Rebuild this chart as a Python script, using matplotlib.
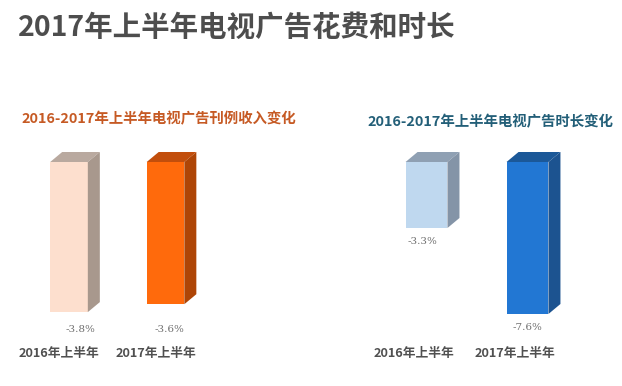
import matplotlib
matplotlib.use('Agg')
import matplotlib.pyplot as plt
from matplotlib.patches import Polygon
from matplotlib.transforms import blended_transform_factory

plt.rcParams['font.family'] = ['Noto Sans CJK SC', 'DejaVu Sans']

# 数据
title = '2017年上半年电视广告花费和时长'
categories = ['2016年上半年', '2017年上半年']

left_title = '2016-2017年上半年电视广告刊例收入变化'
left_values = [-3.8, -3.6]

right_title = '2016-2017年上半年电视广告时长变化'
right_values = [-3.3, -7.6]

W, H = 622, 386
fig = plt.figure(figsize=(W / 100, H / 100), dpi=100)
fig.patch.set_facecolor('white')


def bar3d(ax, x, v, width, dx, dy, front, top, side):
    x0, x1 = x - width / 2, x + width / 2
    ax.bar(x, v, width=width, bottom=0, color=front, edgecolor='none', zorder=2)
    ax.add_patch(Polygon([(x0, 0), (x1, 0), (x1 + dx, dy), (x0 + dx, dy)],
                         closed=True, facecolor=top, edgecolor='none', zorder=3))
    ax.add_patch(Polygon([(x1, 0), (x1 + dx, dy), (x1 + dx, v + dy), (x1, v)],
                         closed=True, facecolor=side, edgecolor='none', zorder=3))


def panel(px0, px1, xlim, ylim, values, width, colors, label_y, label_dx, cat_shift):
    # 轴区域按像素放置，基线在 y=162 像素处
    top_px = 140
    ax = fig.add_axes([px0 / W, 0, (px1 - px0) / W, (H - top_px) / H])
    ax.set_xlim(*xlim)
    ax.set_ylim(*ylim)
    ax.axis('off')
    ux = (px1 - px0) / (xlim[1] - xlim[0])
    uy = (H - top_px) / (ylim[1] - ylim[0])
    dx, dy = 12 / ux, 10 / uy
    for i, v in enumerate(values):
        front, topc, side = colors[i]
        bar3d(ax, i, v, width, dx, dy, front, topc, side)
        ax.text(i + label_dx[i], label_y[i], f'{v:.1f}%', ha='center', va='center',
                fontsize=7.5, color='#707070', family='DejaVu Serif')
    tr = blended_transform_factory(ax.transData, fig.transFigure)
    for i, c in enumerate(categories):
        ax.text(i - cat_shift, 1 - 354 / H, c, transform=tr, ha='center',
                va='center', fontsize=9.2, fontweight='bold', color='#505050')
    return ax


# 左：刊例收入
ax1 = panel(0, 310, (-0.715, 2.497), (-(H - 162) / 39.5, 22 / 39.5),
            left_values, 0.39,
            [('#FDDFCE', '#B9A99F', '#A8988D'), ('#FF6A0C', '#C24E0C', '#AE4506')],
            [min(left_values) - 0.43] * 2, [0.12, 0.04], 0.1)

# 右：时长
ax2 = panel(311, 622, (-1.144, 1.936), (-(H - 162) / 20.0, 22 / 20.0),
            right_values, 0.415,
            [('#BFD8EF', '#8FA0B3', '#8494A7'), ('#2277D3', '#1B5898', '#1C5390')],
            [v - 0.7 for v in right_values], [-0.04, 0.0], 0.12)

fig.text(18 / W, 1 - 28 / H, title, ha='left', va='center', fontsize=20.5,
         fontweight='bold', color='#4D4D4D')
fig.text(159 / W, 1 - 119 / H, left_title, ha='center', va='center',
         fontsize=10.4, fontweight='bold', color='#C65A24')
fig.text(490 / W, 1 - 122 / H, right_title, ha='center', va='center',
         fontsize=10.4, fontweight='bold', color='#235F78')

fig.savefig('out.png', dpi=100, facecolor='white')
